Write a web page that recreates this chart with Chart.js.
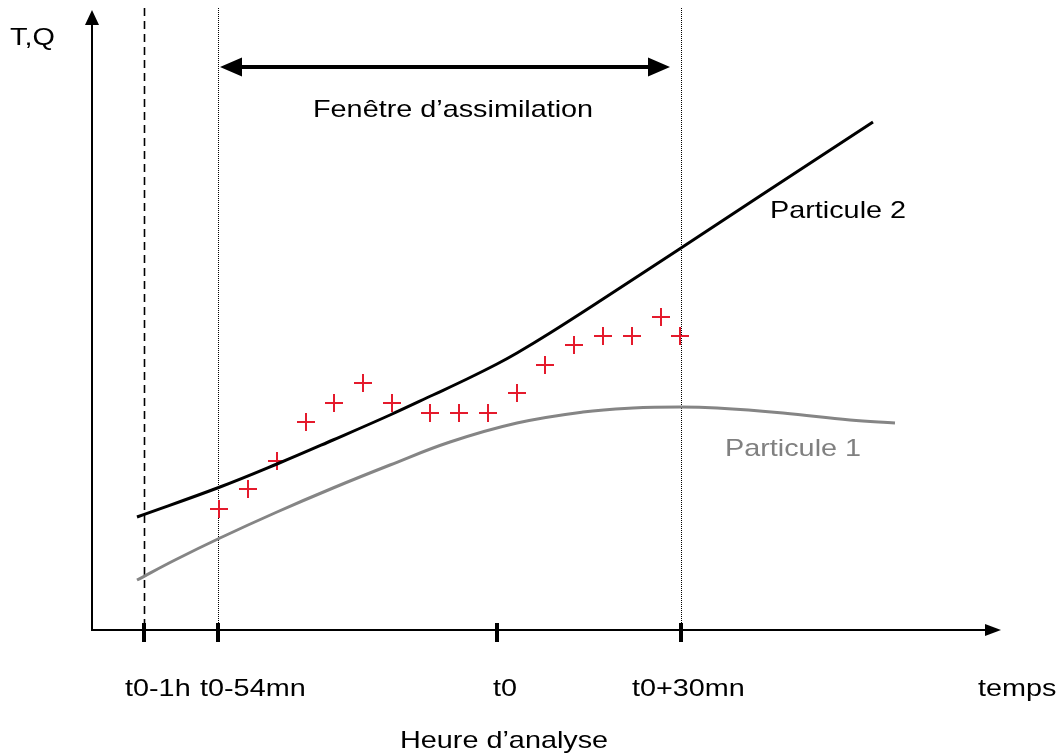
<!DOCTYPE html>
<html>
<head>
<meta charset="utf-8">
<script src="https://cdn.jsdelivr.net/npm/chart.js@4"></script>
<style>
  html, body { margin: 0; padding: 0; background: #fff; }
  canvas { display: block; }
</style>
</head>
<body>
<canvas id="chart" width="1059" height="755"></canvas>
<script>
// time axis positions (arbitrary units along the axis) and their labels
const tickVals = [52, 126, 405, 589];
const tickLabels = ['t0-1h', 't0-54mn', 't0', 't0+30mn'];
const assimWindow = [128, 578];

// Particule 2 trajectory
const p2X = [45, 128, 185, 241, 298, 341, 375, 405, 425, 458, 511, 586, 668, 781];
const p2Y = [113, 143, 166, 190, 215, 235, 251, 266, 277, 297, 331, 380, 434, 508];

// Particule 1 trajectory
const p1X = [45, 83, 128, 185, 241, 298, 358, 425, 491, 541, 588, 625, 691, 758, 803];
const p1Y = [50, 70, 92, 118, 142, 165, 188, 207, 218, 222, 223, 222, 217, 210, 207];

// observations
const obsX = [127, 156, 185, 214, 242, 271, 300, 338, 367, 396, 425, 453, 482, 511, 540, 569, 588];
const obsY = [121, 141, 169, 208, 227, 247, 227, 217, 217, 217, 237, 265, 285, 294, 294, 313, 294];

const toPoints = (xs, ys) => xs.map((x, i) => ({ x: x, y: ys[i] }));

const FONT = '24px "Liberation Sans", Arial, sans-serif';
const STRETCH = 1.2;

const text = (ctx, str, x, y, color) => {
    ctx.save();
    ctx.translate(x, y);
    ctx.scale(STRETCH, 1);
    ctx.fillStyle = color || '#000';
    ctx.font = FONT;
    ctx.textAlign = 'left';
    ctx.textBaseline = 'alphabetic';
    ctx.fillText(str, 0, 0);
    ctx.restore();
};

const arrowHead = (ctx, tipX, tipY, dx, dy, len, half) => {
    // dx, dy: unit direction the arrow points to
    const bx = tipX - dx * len, by = tipY - dy * len;
    ctx.beginPath();
    ctx.moveTo(tipX, tipY);
    ctx.lineTo(bx - dy * half, by + dx * half);
    ctx.lineTo(bx + dy * half, by - dx * half);
    ctx.closePath();
    ctx.fill();
};

const diagramPlugin = {
    id: 'diagram',
    beforeDatasetsDraw(chart) {
        const ctx = chart.ctx;
        const xs = chart.scales.x;
        const area = chart.chartArea;
        ctx.save();
        ctx.strokeStyle = '#000';

        // vertical reference lines
        const lineTop = 8;
        ctx.lineWidth = 1.6;
        ctx.setLineDash([8, 5]);
        let px = Math.round(xs.getPixelForValue(tickVals[0])) + 0.5;
        ctx.beginPath(); ctx.moveTo(px, lineTop); ctx.lineTo(px, area.bottom); ctx.stroke();

        ctx.lineWidth = 1;
        ctx.setLineDash([1, 1]);
        [tickVals[1], tickVals[3]].forEach(v => {
            const p = Math.round(xs.getPixelForValue(v)) + 0.5;
            ctx.beginPath(); ctx.moveTo(p, lineTop); ctx.lineTo(p, area.bottom); ctx.stroke();
        });
        ctx.setLineDash([]);

        // axes with arrows
        ctx.fillStyle = '#000';
        ctx.lineWidth = 2;
        ctx.beginPath();
        ctx.moveTo(area.left, area.top + 6);
        ctx.lineTo(area.left, area.bottom);
        ctx.lineTo(area.right - 6, area.bottom);
        ctx.stroke();
        arrowHead(ctx, area.left, area.top - 2, 0, -1, 15, 7);
        arrowHead(ctx, area.right + 1, area.bottom, 1, 0, 16, 6);

        // tick marks
        ctx.lineWidth = 4;
        tickVals.forEach(v => {
            const p = xs.getPixelForValue(v);
            ctx.beginPath(); ctx.moveTo(p, area.bottom - 7); ctx.lineTo(p, area.bottom + 12); ctx.stroke();
        });

        // assimilation window double arrow
        const wy = 67;
        const wa = xs.getPixelForValue(assimWindow[0]);
        const wb = xs.getPixelForValue(assimWindow[1]);
        ctx.lineWidth = 4;
        ctx.beginPath(); ctx.moveTo(wa + 10, wy); ctx.lineTo(wb - 10, wy); ctx.stroke();
        arrowHead(ctx, wa, wy, -1, 0, 22, 9.5);
        arrowHead(ctx, wb, wy, 1, 0, 22, 9.5);
        ctx.restore();
    },
    afterDraw(chart) {
        const ctx = chart.ctx;
        const xs = chart.scales.x;
        const labelShift = [-19, -18, -4, -49];
        tickLabels.forEach((lab, i) => {
            text(ctx, lab, xs.getPixelForValue(tickVals[i]) + labelShift[i], 696);
        });
        text(ctx, 'temps', 978, 696);
        text(ctx, 'Heure d\u2019analyse', 400, 748);
        text(ctx, 'T,Q', 10, 45);
        text(ctx, 'Fen\u00eatre d\u2019assimilation', 313, 117);
        text(ctx, 'Particule 2', 770, 218);
        text(ctx, 'Particule 1', 725, 456, '#808080');
    }
};

new Chart(document.getElementById('chart').getContext('2d'), {
    type: 'line',
    data: {
        datasets: [
            {
                label: 'Particule 2',
                data: toPoints(p2X, p2Y),
                borderColor: '#000',
                borderWidth: 3,
                pointRadius: 0,
                tension: 0.4,
                fill: false
            },
            {
                label: 'Particule 1',
                data: toPoints(p1X, p1Y),
                borderColor: '#858585',
                borderWidth: 3,
                pointRadius: 0,
                tension: 0.4,
                fill: false
            },
            {
                label: 'Observations',
                data: toPoints(obsX, obsY),
                showLine: false,
                pointStyle: 'cross',
                pointRadius: 9,
                pointBorderWidth: 2,
                pointBorderColor: '#e41a2c',
                borderColor: '#e41a2c'
            }
        ]
    },
    options: {
        responsive: false,
        animation: false,
        layout: { padding: { left: 92, right: 59, top: 12, bottom: 125 } },
        plugins: {
            legend: { display: false },
            tooltip: { enabled: false }
        },
        scales: {
            x: { type: 'linear', min: 0, max: 908, display: false },
            y: { type: 'linear', min: 0, max: 618, display: false }
        }
    },
    plugins: [diagramPlugin]
});
</script>
</body>
</html>
